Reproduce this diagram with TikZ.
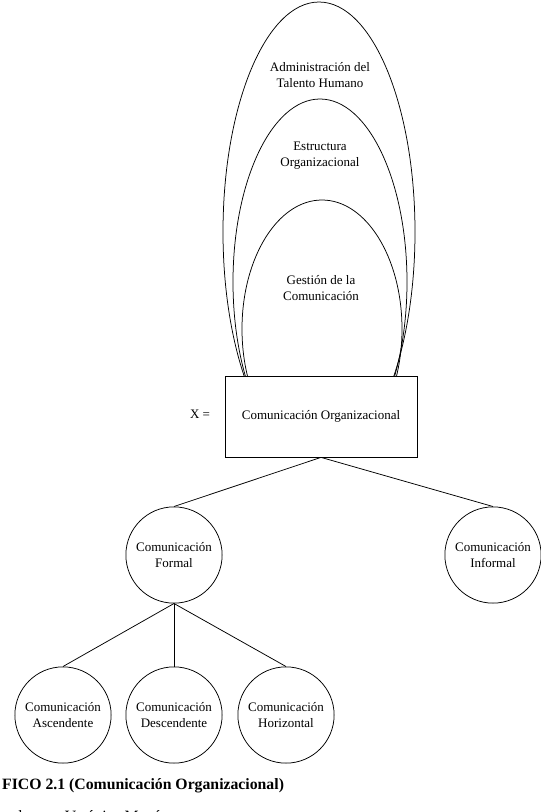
\documentclass[tikz,border=0pt]{standalone}
\usepackage{fontspec}
\setmainfont{Liberation Serif}
\usepackage{tikz}
\usetikzlibrary{positioning}

\tikzset{
  circ/.style={draw, circle, line width=0.6pt, minimum size=77pt, inner sep=0pt, align=center, font=\fontsize{10.4}{12.8}\selectfont},
  caja/.style={draw, rectangle, line width=0.6pt, minimum width=153.6pt, minimum height=64.8pt, font=\fontsize{10.4}{12.8}\selectfont},
  txt/.style={align=center, font=\fontsize{10.4}{12.8}\selectfont},
}

\begin{document}
\begin{tikzpicture}[x=0.8pt,y=-0.8pt]
\useasboundingbox (0,0) rectangle (541,812);

% arcos
\begin{scope}
\clip (0,0) rectangle (541,376);
\draw[line width=0.6pt] (319,232) ellipse [x radius=96, y radius=230];
\draw[line width=0.6pt] (320,282) ellipse [x radius=87, y radius=183];
\draw[line width=0.6pt] (322,329) ellipse [x radius=80, y radius=129];
\end{scope}

\node[txt] (T1) at (320,75) {Administración del\\Talento Humano};
\node[txt] (T2) at (320,156) {Estructura\\Organizacional};
\node[txt] (T3) at (321,288) {Gestión de la\\Comunicación};

\node[caja] (C) at (321,416.5) {Comunicación Organizacional};
\node[txt] (X) at (200,414) {X =};

\node[circ] (F) at (174,555) {Comunicación\\Formal};
\node[circ] (I) at (493,555) {Comunicación\\Informal};

\node[circ] (A) at (63,715) {Comunicación\\Ascendente};
\node[circ] (D) at (174,715) {Comunicación\\Descendente};
\node[circ] (H) at (286,715) {Comunicación\\Horizontal};

\draw[line width=0.6pt] (C.south) -- (F.north);
\draw[line width=0.6pt] (C.south) -- (I.north);

\draw[line width=0.6pt] (F.south) -- (A.north);
\draw[line width=0.6pt] (F.south) -- (D.north);
\draw[line width=0.6pt] (F.south) -- (H.north);

\node[anchor=base west, inner sep=0pt] (G) at (2,789) {\fontsize{12.6}{15}\selectfont\bfseries FICO 2.1 (Comunicación Organizacional)};
\node[anchor=north west, inner sep=0pt] (E) at (2,810.5) {\fontsize{12.6}{15}\selectfont rado por: Verónica Martínez};
\end{tikzpicture}
\end{document}
